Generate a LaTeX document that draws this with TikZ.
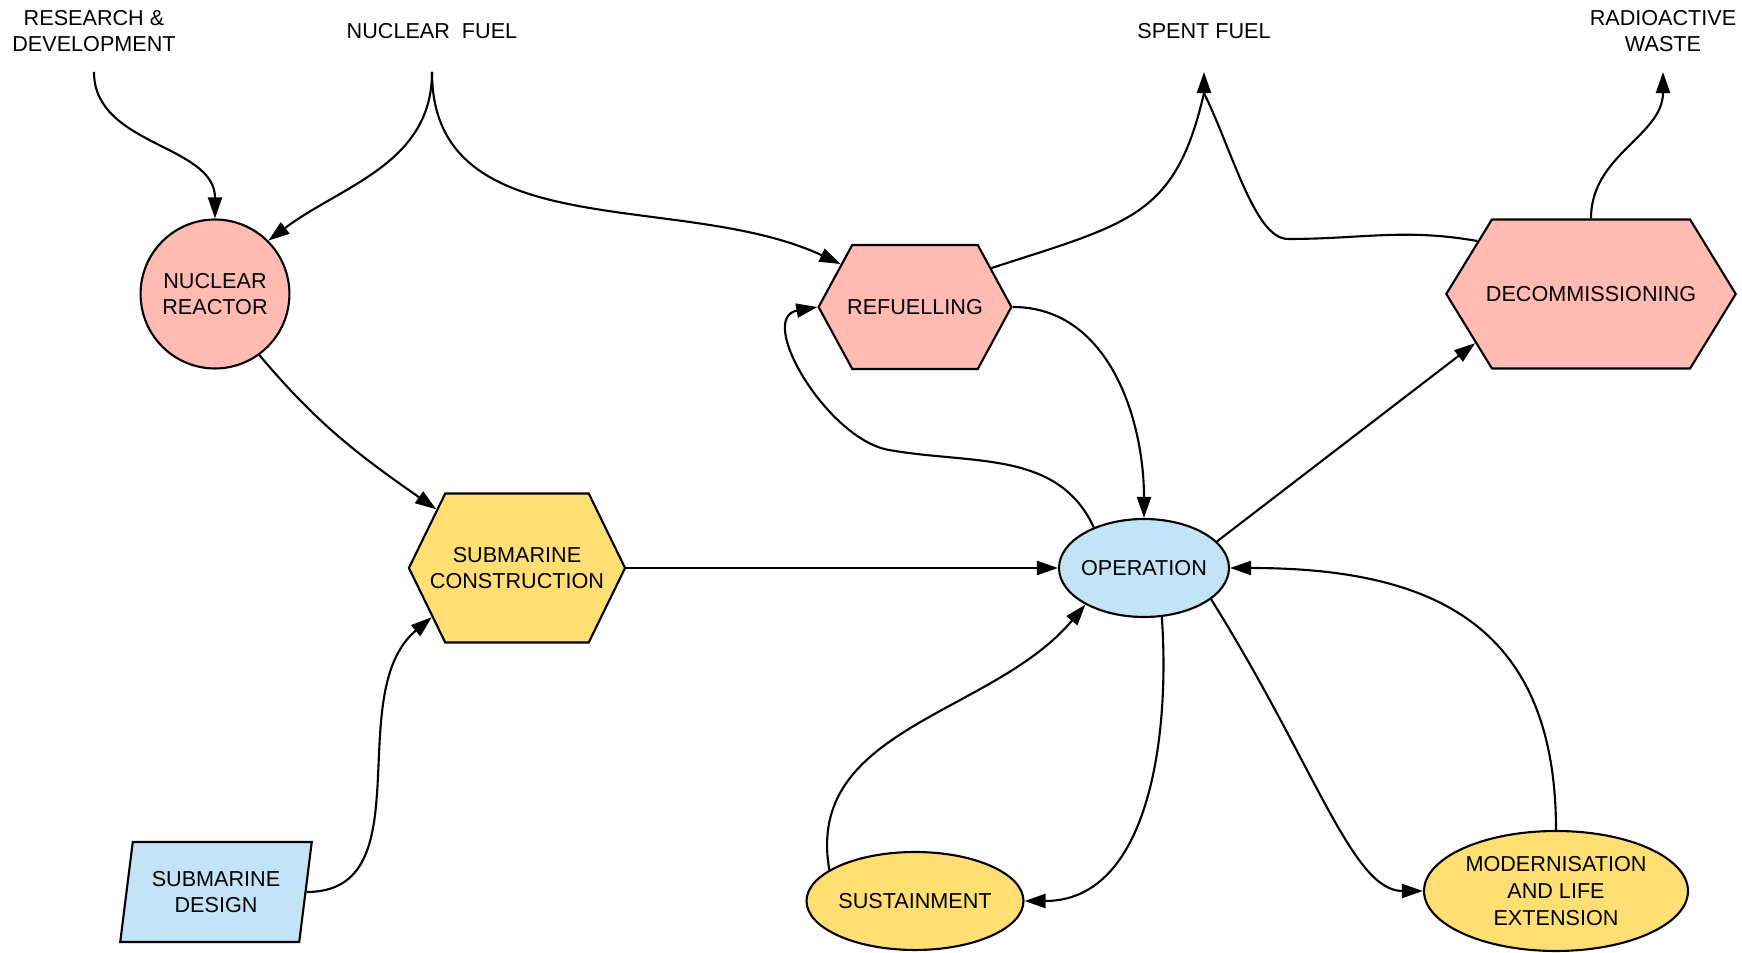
\documentclass[tikz,border=0pt]{standalone}
\usepackage{fontspec}
\setmainfont{Liberation Sans}
\usetikzlibrary{arrows.meta,shapes.geometric,shapes.symbols}
\definecolor{redfill}{HTML}{FFBAB1}
\definecolor{yellowfill}{HTML}{FFDF73}
\definecolor{bluefill}{HTML}{C2E4F6}
\begin{document}
\begin{tikzpicture}[x=0.02cm,y=0.02cm,line width=1.2pt,>={Triangle[length=12pt,width=8pt]},
  every node/.style={font=\fontsize{12.3}{15.2}\selectfont,align=center,inner sep=0pt},
  hexbox/.style={draw,shape=signal,signal to=east and west},
  ovalbox/.style={draw,ellipse},
  flow/.style={->}]
\useasboundingbox (0,0) rectangle (1742,953);
\node (rnd) at (94,922) {RESEARCH \&\\DEVELOPMENT};
\node (fuel) at (432,922) {NUCLEAR\ \ FUEL};
\node (spent) at (1204,922) {SPENT FUEL};
\node (waste) at (1663,922) {RADIOACTIVE\\WASTE};
\coordinate (rnd-end) at (94,881);
\coordinate (fuel-end) at (432,881);
\coordinate (spent-end) at (1204,881);
\coordinate (spent-join) at (1204,860);
\coordinate (waste-end) at (1663,881);
\coordinate (spent-right) at (1288,714);
\coordinate (loop) at (889,503);
\node[ovalbox,fill=redfill,minimum width=2.9cm,minimum height=2.98cm] (reactor) at (215,659) {NUCLEAR\\REACTOR};
\node[hexbox,fill=redfill,signal pointer angle=123,inner xsep=-2.9pt,minimum height=2.48cm] (refuel) at (915,646) {REFUELLING};
\node[hexbox,fill=redfill,signal pointer angle=117,inner xsep=-3.4pt,minimum height=2.98cm] (decomm) at (1591,659) {DECOMMISSIONING};
\node[hexbox,fill=yellowfill,signal pointer angle=128,inner xsep=-8.7pt,minimum height=2.98cm] (subcon) at (517,385) {SUBMARINE\\CONSTRUCTION};
\node[ovalbox,fill=bluefill,inner xsep=-3pt,minimum width=3.4cm,minimum height=1.96cm] (operation) at (1144,385) {OPERATION};
\node[ovalbox,fill=yellowfill,inner xsep=-3pt,minimum width=4.34cm,minimum height=1.96cm] (sustain) at (915,52) {SUSTAINMENT};
\node[ovalbox,fill=yellowfill,minimum width=5.28cm,minimum height=2.4cm] (modern) at (1556,62) {MODERNISATION\\AND LIFE\\EXTENSION};
\node[draw,trapezium,trapezium left angle=77,trapezium right angle=103,trapezium stretches=true,fill=bluefill,minimum width=3.86cm,minimum height=2cm] (design) at (216,61) {SUBMARINE\\DESIGN};
\draw[flow] (rnd-end) to[out=-90,in=90] (reactor.north);
\draw[flow] (fuel-end) to[out=-90,in=37] (reactor.45);
\draw[flow] (fuel-end) to[out=-90,in=155] (refuel.150);
\draw[flow] (refuel.27) to[out=18,in=-103,out looseness=1.36,in looseness=1.18] (spent-join) -- (spent-end);
\draw (decomm.155) to[out=170,in=0] (spent-right) to[out=180,in=-64,out looseness=0.5] (spent-join);
\draw[flow] (decomm.north) to[out=90,in=-90] (waste-end);
\draw[flow] (reactor.-54) to[out=-50,in=145] (subcon.144);
\draw[flow] (design.east) to[out=0,in=-140] (subcon.210);
\draw[flow] (subcon.east) -- (operation.west);
\draw[flow] (refuel.east) to[out=0,in=90] (operation.north);
\draw[flow] (operation.141) to[out=115,in=-10] (loop) to[out=170,in=-170] (refuel.west);
\draw[flow] (operation.20) -- (decomm.203);
\draw[flow] (operation.-70) to[out=-86,in=0] (sustain.east);
\draw[flow] (sustain.160) to[out=100,in=-130] (operation.212);
\draw[flow] (operation.-25) to[out=-58,in=180,out looseness=1.4,in looseness=0.5] (modern.west);
\draw[flow] (modern.north) to[out=90,in=0,looseness=1.25] (operation.east);
\end{tikzpicture}
\end{document}
